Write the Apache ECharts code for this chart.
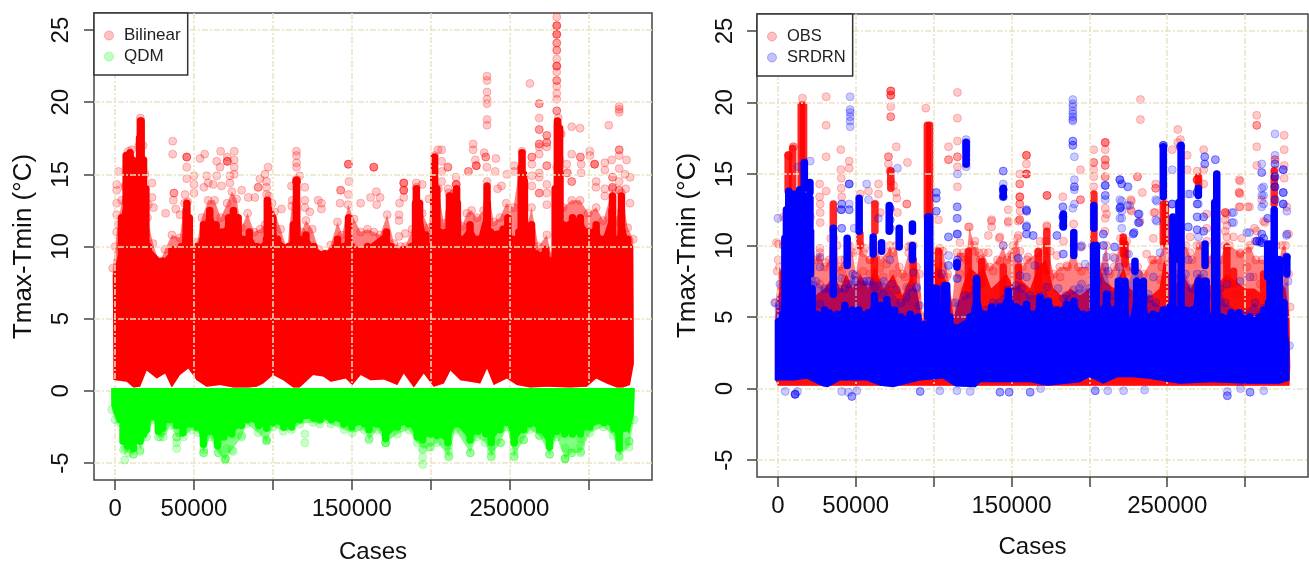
<!DOCTYPE html>
<html><head><meta charset="utf-8">
<style>html,body{margin:0;padding:0;background:#fff}#c{width:1309px;height:563px;filter:blur(.4px)}</style>
<script src="https://cdn.jsdelivr.net/npm/echarts@6/dist/echarts.min.js"></script>
</head><body><div id="c"></div>
<script>
// All x values are in thousands of cases, y in degrees C. Points: [x, y, repeat]. Runs: [x, yLow, yHigh]
const xTicks=[0,50000,100000,150000,200000,250000,300000];
const xLabels=[0,50000,150000,250000];
const yTicks=[-5,0,5,10,15,20,25];

// ---------- left panel: Bilinear ----------
const bilinearEnvelope=[[-1.5,8.5],[0,10],[1,11],[2,11.5],[4.2,13.2],[6.3,14.2],[8.4,16.6],[10.5,16.7],[12,14.5],[13.7,14.8],[15,17],[16,18.9],[17.7,17],[19,15],[20.5,12],[24,10.2],[28,8.8],[31.6,9.8],[36,10.8],[41,10.6],[44,13],[46,13.1],[48,10],[52,10.3],[55,12],[59,13.2],[63,13.2],[67,12],[71,13],[74,13.8],[77,13.3],[80,11.3],[84,12.3],[88,11],[92,11.2],[95,11.5],[97.5,13.5],[99.5,13],[101,12.4],[105,11.2],[109,9.8],[112,12.8],[115,14.7],[118,11],[121,11.8],[125,11.2],[129,9.8],[133,9.5],[136.7,10.1],[141,11.7],[144,10.8],[147.7,12.9],[151.5,11.9],[155.7,11],[160,11.2],[164,11],[168,10.8],[172.5,12.2],[176.8,10.2],[181,10],[184,10],[188.3,11.2],[191,14.1],[194.7,12.3],[199,11.3],[202.5,16.3],[205,14],[208.4,11.6],[211.5,13.7],[216.4,14.3],[220,11.4],[223,12.3],[226,12.5],[229.4,12],[233.6,12.5],[235.8,14.5],[240,11.7],[244,12],[248,13],[252.6,12.7],[258,16.6],[261,11.3],[264,12.7],[268.4,10],[273.7,10.8],[276.8,9.3],[280,15.5],[281,18.9],[282,16],[284,12.7],[289.5,13.2],[294.8,13.2],[300,12.3],[305,12.7],[309.5,11.8],[315.4,14],[318,11.8],[321,13.7],[325,11.3],[328.5,10.5]];
const bilinearCore=[[-1.5,8],[2,9.5],[4,12],[8,15.5],[11,16],[12,13],[14,13],[15.5,17.5],[16.5,18.7],[18,16],[19.5,14],[21,10],[30,9],[36,9.8],[42,10],[45,12.5],[47,12],[49,9.8],[52,10],[56,11.5],[60,12.5],[64,11.5],[68,11],[72,12],[75,12.5],[78,12],[81,10.5],[85,11],[90,10],[96,10.5],[98,12.5],[100,12],[103,10.5],[110,10],[113,11.5],[115,13],[117,10.5],[121,10.8],[126,10],[133,9.5],[141,10.5],[145,10],[148,12],[150,10],[160,10],[172,11],[175,10],[183,9.8],[188,10],[190.5,13],[193,13],[197,10.8],[200,10],[202,15],[204,14],[206,11],[210,11],[212,12.5],[215,11],[217,13],[219,10.5],[225,11.5],[230,10.5],[236,13],[238,11],[246,11.2],[249,12],[252,10.5],[256,11],[257.5,15.5],[259,15],[261,10.5],[264,11.5],[267,9.5],[273,9.8],[277,9],[279,14],[280.5,18.5],[282,15],[284,11.5],[290,12],[295,12],[300,11],[305,11.5],[309,10.5],[315,12.5],[318,10.5],[321,12.5],[325,10.5],[328.5,10]];
const bilinearLow=[[-1,.75],[7.4,.62],[11.6,.23],[15.8,.28],[20,1.4],[26.4,.85],[31.7,1.2],[35.9,.23],[41.1,1.1],[46.4,1.55],[51.7,.74],[58,.28],[66.5,.4],[74.9,.23],[84.4,.23],[89.7,.28],[93.9,.5],[100.2,1.1],[106.6,.74],[112.9,.23],[117,.23],[125.5,1.1],[131.9,1],[136.7,.62],[146.2,.85],[150.4,.4],[155.7,1.1],[162,.74],[170.4,.78],[178.9,.4],[183,1.2],[189.4,.23],[195.7,1.2],[202,.28],[208.4,.5],[212.6,1.4],[218.9,.74],[225.2,.62],[231.5,.5],[235.8,1.55],[240,.4],[248.4,.85],[254.7,.4],[263,.23],[273.7,.28],[288.4,.23],[299,.28],[305,.85],[311.6,.5],[318,.23],[322,.23],[326.4,.4],[328.9,1.9]];
const bilinearRuns=[[16,15,18.7],[7,13,16.3],[9.5,13,16.5],[45.5,10,13],[96.5,10,13.2],[115,11,14.6],[191,10,14],[202.5,10,16.2],[212,10,13.5],[216.5,10,14],[235.8,10,14.2],[258,10,16.5],[259.5,10,14.5],[280.5,10,18.7],[281.8,12,18.2],[315.4,10,13.5],[321,10,13.5]];
const bilinearPoints=[[36.5,17.3],[36.5,16.4],[45.4,16.2,3],[45.4,15.5],[45.4,14.7],[53.8,16.1],[56.8,16.4],[66.9,16.6],[64.4,15.9],[66.5,15.5],[71.1,16.2],[71.1,15.9,3],[75.5,16.6],[75.5,16],[75.5,15.5],[75.5,15],[64.4,14.9],[58,14.9],[59,14.4],[67.5,14.2],[72.8,14.9],[72.8,14.4],[23.4,14.4],[23.4,13.4],[21.1,12.9],[24.3,12.7],[32,12.3],[37.3,13.7,2],[36.9,13.2],[38.4,12.6],[41.1,12.2],[44.3,13.6],[50,14.9],[50,14.3],[50,13.7],[62.2,14.3],[56.3,14.1],[80.2,13.9],[84.4,13.4],[88.6,13.4],[90.7,14.1,2],[91.8,14.7],[95,15],[97,15.5],[96,14.5],[96,14.1],[96,13.6],[111.8,14.2],[115,16.6],[115,16.3],[115,15.8],[115,15.5],[115,14.5,4],[117,14.9],[120.3,14.1],[120.3,13.2],[120.3,12.7],[112.3,13.2],[130.8,13],[130.8,12.6],[128.7,13.2],[123.4,12.4],[105.5,12.6],[2.1,15.2],[1,14.3],[1,13.9],[1,13],[1,12.2],[7.4,15.5],[6.3,14.1],
[147.9,15.7,3],[148.3,14.5],[147.9,13.6],[143,13.9,2],[142.6,13],[155.7,13],[164,15.5,3],[165.6,13.8],[162,13.4],[168,13.4],[165.8,12.9],[183,14.4,3],[183,13.9,3],[183,13.4],[180.3,13],[180,12.2],[180,11.8],[180,10.7],[184,10.9],[191,14.4],[194.7,14.3],[199,13.3],[204.7,16.7],[207,16.7],[207,15.9],[207,15.2],[207,14.5],[211,15.5,2],[211,14],[216.2,14.8],[216.2,14.3,2],[224,15.2,2],[229,15.6,3],[227,17.1],[227,16.7],[228.4,16],[234,16.5],[235,16.2,2],[235.7,15.5],[241.4,16.1],[241,15.2],[245,14.2],[242.5,14],[248.4,15],[235.8,21.8],[235.8,21.5],[235.8,20.7],[235.8,20.2],[235.8,19.9],[235.8,18.8],[235.8,18.4],[263,21.3],[268.9,19.9,2],[268.9,18.9],[268.9,18.1,2],[268.9,17.1,2],[268.9,16.9],[268.9,16.4],[268.9,15.1],[268.9,14.8],[273.7,17.7,2],[273.7,17.2,2],[273.7,16.9],[273.7,15.6,2],[273.7,14.3],[273.7,13.7],[273.7,12.9],[264.2,16.2,2],[264.2,15.7],[264.2,14.9],[264.2,14.2],[268.9,13.7,2],[253,15.6],[253,15.2],
[280,25.9],[280,25.3,3],[280,24.7,3],[280,24.1,2],[280,23.6,2],[280,23],[280,22.5,3],[280,22.1],[280,21.5,2],[280,21.1],[280,20.6],[280,20.2],[280,19.4,2],[282,17.8],[282.9,17.8],[289.5,18.3],[294.8,18.2],[289.5,16.4],[286.3,15.7],[286.7,15.1,2],[289.5,14.5,2],[295,16.2,2],[295.5,15.7],[295.5,15.1],[301,16.6],[301,16.3],[304,15.7,3],[305,14.5],[304.8,14.1],[310.5,15.8],[310.5,15.3],[310.5,14],[310.5,13.5],[313,18.4],[319.6,19.7],[319.6,19.5],[319.6,19.3],[319.6,16.7,2],[319.6,16.3],[319.6,15.4],[314.8,16],[315.4,14.8,2],[315.4,14.1,2],[324.3,16],[323.2,15],[326.5,14.8],[323.7,14],[326.5,13],[319.6,14.5],[319.6,13.9,2]];

// ---------- left panel: QDM ----------
const qdmTop=[[-2.5,.2],[329.5,.2]];
const qdmEnvelope=[[-2.1,-1.3],[0,-2],[3.2,-2.2],[5.3,-4.1],[8.4,-4.3],[11.6,-4.4],[13.7,-3.2],[15.8,-4.1],[20,-3.2],[24.3,-2],[27.4,-3.2],[30.6,-3.2],[34.8,-2.4],[39,-3.2],[43.3,-3.2],[48.5,-2.7],[52.8,-2.9],[55.9,-4.3],[60.1,-3.2],[65.4,-4.3],[69.6,-4.8],[73.9,-4.1],[80.2,-3.2],[83.3,-2.3],[90.7,-2.9],[96,-3.5],[100.2,-2.5],[106.6,-2.8],[111.8,-2.7],[117.1,-2.3],[125.5,-2.2],[129.8,-2.3],[135,-2],[136.7,-2.3],[145.2,-2.7],[150.4,-2.9],[157.8,-2.7],[161,-3.4],[166.2,-2.7],[171.5,-3.6],[178.9,-3],[186.2,-2.7],[191.5,-3.6],[195,-4],[199.5,-3.9],[204.2,-3.6],[211.5,-4.5],[215.7,-2.7],[225.2,-4.3],[229.4,-3.2],[234.7,-3.6],[238.5,-4.5],[244.2,-3.6],[248.4,-2.5],[253,-4.5],[259,-3.4],[263,-2.7],[269,-3.1],[275.4,-4.4],[280,-3.2],[285.3,-4.7],[289.5,-4.3],[295.2,-4.3],[301,-2.9],[309.5,-2.5],[315.8,-3.1],[319.6,-4.5],[325.9,-3.9],[328.9,-2]];
const qdmCore=[[-2.5,-1],[0,-1.8],[3,-2],[5,-3.5],[8,-3.8],[11.6,-4],[13.7,-2.6],[15.8,-3.5],[18,-3],[20,-2.7],[24,-1.8],[27.4,-2.8],[30,-2.6],[34.8,-2],[39,-2.4],[43,-2.9],[48,-2.3],[52,-2.5],[56,-3.7],[60,-2.8],[65,-3.8],[69,-3.2],[74,-3],[80,-2.4],[84,-2],[91,-2.4],[96,-2.6],[100,-2.2],[107,-2.5],[112,-2.5],[117,-2],[126,-1.9],[130,-2],[135,-1.8],[137,-2],[145,-2.3],[150,-2.5],[158,-2.3],[161,-2.7],[166,-2.3],[171.5,-3.3],[179,-2.5],[186,-2.3],[191.5,-3.2],[195,-3.4],[200,-3],[204,-3.1],[211,-3.6],[216,-2.3],[225,-3.4],[230,-2.8],[235,-3],[238.5,-3.6],[244,-2.7],[248,-2.2],[253,-3.6],[259,-2.7],[263,-2.3],[269,-2.7],[275.4,-3.9],[280,-2.8],[285,-3],[290,-3],[295,-3],[301,-2.5],[310,-2.2],[316,-2.6],[319.6,-4],[323,-2.6],[326,-3],[329,-1.5]];
const qdmPoints=[[6.1,-4.8],[6.1,-4],[11.6,-4.4],[15.8,-4.2],[39,-4],[39,-3.6],[39,-3.2],[56.3,-4.3],[56.3,-4.1],[65.4,-4.3],[70,-4.7,2],[74.9,-4.2],[70.7,-4],[80.2,-3.1],[96,-3.4,2],[120.3,-3],[120.3,-3.6],[28.5,-3.2],[30.6,-2.8],[195,-5.1],[195,-4.6],[195,-4.1],[211.5,-4.6],[211.5,-4.2],[211.5,-3.8],[225.2,-4.3],[238.5,-4.6],[238.5,-4.2],[238.5,-3.9],[244.6,-3.6],[253,-4.6],[253,-4.2],[253,-3.6],[259,-3.4],[269,-3.1],[275.4,-4.4],[285.3,-4.7,2],[285.3,-3.98],[289.5,-4.3],[295.2,-4.2],[295.2,-3.8],[295.2,-3.3],[319.6,-4.6],[325.9,-3.5,2],[161,-3.3],[171.5,-3.6,2],[200,-3.9]];

// ---------- right panel: OBS ----------
const obsEnvelope=[[-1.5,6],[1,8.5],[3,8],[4.3,10],[5.5,12],[18,12],[19,12],[21,12],[24,9],[27,9.5],[30,8.5],[33,9],[34,10.5],[36,10.5],[38,10],[39,8.5],[43,9],[45,10],[46,10],[48,9.5],[50,8],[53,10],[55,9.5],[59,9],[61,10],[63,10],[66,9],[70,9.5],[72,10],[74,9.5],[76,10],[78,8.5],[80,8],[84,9.5],[85,10],[87,10],[89,8.5],[91,8],[93,5],[100,9.3],[103,8],[104,9.8],[106,9.6],[109,8],[112,6],[115,9.5],[119,9.5],[121,9],[123,11.3],[126,10],[129,9.5],[130,9],[132,9.5],[136,8.5],[141,9],[144.7,10],[147,9],[151,10],[154,10.5],[157,8.5],[160,9],[167,9.5],[172,10.3],[177,8],[181,8.5],[186,8.5],[190,10],[193,8.5],[200,8.5],[202,10],[205,10],[207,8.5],[211,10],[213,8],[216,8.5],[220,10.5],[224,10.3],[226,8.5],[231,8.5],[235,8],[240,9],[244,9],[248,10],[250,10],[253,9],[256,10],[259,10],[262,10],[266,9],[269,10],[271,10],[273,10],[276,9],[281,10],[284,9],[287,10],[290,10],[297,9.5],[303,10],[307,9],[311,9],[315,9],[318,10],[320,10],[322,9],[324,10],[326,10],[328,8]];
const obsCore=[[-1.5,5],[1,7],[3,7.5],[5,9],[18,9],[20,7.5],[24,6.5],[30,7],[36,8],[40,7],[44,8],[48,7],[53,8],[58,7],[62,8.5],[68,7],[74,8],[80,6.5],[86,8],[90,6.5],[93,4.5],[100,8],[104,8.5],[110,7],[113,5],[118,7],[123,8.5],[128,8],[132,8.5],[137,7],[142,7.5],[147,8],[152,7],[157,7.5],[162,7],[167,8.5],[172,9],[177,7],[182,6.5],[188,7],[194,6.5],[200,7],[205,9],[210,7.5],[216,7],[222,8.5],[226,7],[232,6.5],[240,6.5],[245,7],[248,9],[254,7],[260,8],[265,7],[270,8],[275,7.5],[280,7],[288,8],[294,7.5],[300,7],[306,7],[312,6.5],[318,7],[322,7.5],[326,7],[328.5,5]];
const obsLow=[[-1.5,.6],[0,.2],[328.5,.2],[329,1.5]];
const obsRuns=[[35.6,11,12.9],[6.6,13.8,16.3],[9.5,14,16.8],[15,14,19.8],[16.5,14,19.8],[96,12,18.4],[97.5,12,18.4],[103.1,8.2,9.6],[86.9,7.5,9],[62.3,11,12.9],[52.7,10,10.8],[3.4,6.6,8],[130.9,7.3,8.9],[122.3,6.6,9.6],[144.7,6.6,8.5],[154.4,6.4,8.5],[167.2,5.9,9.6],[172.7,8.2,11],[202.9,10,13.6],[221.8,9.4,10.6],[247.5,10.2,12.9],[248.8,10.2,12.9],[222.9,8.7,10.1],[270.1,14,14.8],[292.6,7.3,8.2],[288.3,7.8,9.9],[311.9,6.8,8],[318.7,12.9,15.2],[72.5,14,15.2],[35.6,8,10],[103,5,8.2],[62,7,9]];
const obsPoints=[[15.8,20.3],[31,20.4],[31,18.4],[31,16.2],[40.4,16.7],[40.4,15.3],[45.8,15.9],[45.8,15.4],[26.8,14.3],[26.8,13.4],[31,13.8],[27.2,12.9],[27.2,12.3],[27.2,11.6],[52.9,13.6],[58.2,13.8],[64.6,14.3],[64.6,13.6],[65.7,12.3],[62.5,12.9],[72.5,20.8,3],[72.5,20.5,3],[72.5,19.7],[72.5,19,2],[76,16.9],[83.2,15.8],[71,16.2,2],[71,15.7],[72.1,15.2,2],[72.5,14.5],[74.3,14.2],[76,13.7],[76.4,13.3],[76.8,12.3],[82.8,12.9,2],[83.9,9.9],[95,19.6],[115.3,20.7],[115.3,18.9],[109.6,16.9],[115.3,17.3],[109.6,16,2],[115.3,16.2,2],[115.3,15.5],[115.3,14.1],[103.1,11.8],[.4,10.1],[3.6,12],[6.8,16.3,2],[10,16.9,2],[40.7,14.7],[40.7,14],[41,13.4],
[232.8,20.2],[232.8,18.8],[230.9,14.8,2],[234,13.7],[226.6,13.2],[226.6,12.5],[241.5,12.3],[242.6,14.3],[242.6,14,2],[253.2,16.7],[256.8,18.1],[258.5,17.4],[256.8,17.2],[262.8,16.3],[262.8,15.3],[273.4,16.7],[273.4,15.3],[273.4,14.3],[269.2,15.2],[269.2,14.6,4],[296.2,14.6],[296.2,13.7,2],[296.2,12.7],[301.7,12.7],[307.5,19.1],[307.5,18.4,2],[307.5,16.9],[307.5,15.6],[325.1,17.7],[325.1,16.7],[325.1,15.6],[325.1,14.7],[319.2,16,2],[319.2,15.3],[310.7,13.2],[312.8,11.6],[287.3,12.3,3],[287.3,11.8],[287.3,11],[306,11.2],[159.6,16.3,3],[159.6,15.7],[159.6,15,4],[155.3,15],[155.3,14.3,2],[155.3,13.4,2],[155.3,12.9,2],[155.3,11.8,2],[172.8,13.5,3],[172.8,11.3],[183,13.4],[194.3,15.3],[194.3,13.2,2],[202.8,16.7],[202.8,15.8,2],[202.8,15.3],[202.8,14.8],[202.8,14.1],[210.2,17.2,3],[210.2,16.7],[210.2,16,2],[210.2,15.6,2],[210.2,14.8,2],[210.2,12.6],[210.2,11.9],[137.2,11.8],[137.2,11.3],[147.9,12.5],[147.9,11.6],[135.1,10.7],[142.1,10.5],
[-.9,10.2],[3.4,10],[.2,9],[-.4,8.2],[27,9.8],[27,9.1],[30.8,8.8],[27,7.3],[41,9],[41,8.2],[50.5,9.6],[55.9,9.8],[59.1,9],[65.5,8.4],[69.8,8.7],[67.7,7.8],[74.1,8],[81.6,7.8],[82.7,7.1],[59.1,8],[54.8,8.2],[54.8,7.3],[63.4,6.9],[30.2,6.9],[21.6,6.9],[21.6,6.2],[89.1,6.5],[90.2,5.8],[82.7,6.1],[101.9,9.6],[103,8.8],[108.4,7.8],[106.2,8.5],[43.1,7.6],
[116.9,10.2],[122.3,11.3],[126.6,10.3],[135.1,9.5],[137.2,11.7],[142.6,10.6],[148,11.7],[148,9.2],[155.5,13.4],[155.5,12.4],[154.4,11.7],[154.4,10.7],[160.8,9.2],[168.3,10.3],[172.7,11.4],[174.9,9.6],[179.2,9.3],[185.6,8.6],[189.9,11.5],[183.4,10.3],[174.9,7.8],[181.3,7.8],[138.3,8.2],[142.6,8.9],[116.9,8],[119,9.2],[126.6,9.6],[131.9,8.5],[150.1,9.4],[155.5,9.6],[195,8.2],[195,9.9],[211.1,12.2],[210,11],[215.4,9.2],[210,8.2],[221.8,10.3],[224,9.4],[224,8.2],
[227,13.1],[227,12.4],[232.5,11.7],[241.1,10.5],[246.5,8.5],[241.1,9],[236.8,9.4],[245.4,7.6],[248.6,6.6],[242.2,12.3],[264.7,10.6],[264.7,9.5],[275.4,12.2],[275.4,11.2],[275.4,10.3],[288.3,12.2],[288.3,11.4],[288.3,10.6],[296.8,14.5],[296.8,13.6],[296.8,12.7],[302.8,12.7],[292.6,10.6],[298,10.5],[302.2,9.8],[307.5,11],[306.4,10.3],[301.1,8.5],[305.4,7.8],[294.6,6.6],[296.8,9.4],[311.9,11.7],[326.8,12.7],[327.9,10.8],[328.9,5.7],[309.7,7.3],[314,6.6]];

// ---------- right panel: SRDRN ----------
const srdrnEnvelope=[[-2,6],[1,5.8],[3,5.8],[19,7.5],[24.5,7.5],[30,7],[33,7],[39,7],[43,7],[48,8],[50,7.5],[55,7.5],[59,7.5],[68,7.5],[79,6],[84,7],[89,7],[91,5.8],[93.5,3.8],[100,7],[103,6],[107,7],[112,4],[113,3.8],[114,6],[120,6.5],[127,7],[129.8,5.2],[134,5.5],[138.3,6],[147.9,6.9],[153,7.2],[156.4,7],[161.7,6.5],[170.2,6.5],[180.9,5.5],[185,6.5],[193.6,7],[200,7],[205.5,7.5],[210.2,8.5],[214.9,6.5],[219.2,8.5],[223.4,6.5],[228.1,8.5],[231.5,8],[234,7],[238.3,6.3],[242.6,6],[249,5.5],[256,8],[261.7,8],[266,7],[269.2,8],[273.4,8],[275.5,6.5],[277.7,5.2],[284,7],[287.2,6],[297.9,5.2],[306.4,6],[310.7,5.2],[321.8,7],[327.6,7.5],[328.5,3]];
const srdrnCore=[[-2,4.8],[3,5.2],[4.5,10.5],[5.5,12.5],[7,13.8],[14,13.9],[16.5,13.5],[18,11],[19,8],[22,7],[25,5.2],[30,5.5],[33,5.3],[38,5.2],[43,5.8],[48,5.5],[52,5.5],[58,5.3],[62,6.5],[66,5.8],[70,6.2],[75,5.5],[79,5],[85,5.2],[90,5],[92.5,3.8],[94,4.5],[98,5],[102,7],[103.5,5],[107,7.2],[109,5],[110.5,5],[112.6,4.3],[123.3,5],[127.6,7.5],[131.9,5.2],[137.2,5.7],[142.6,5.7],[148,6.8],[153.3,5.7],[159.7,5.9],[164,5.2],[168.3,6.4],[173.7,6.1],[179,5.5],[185.4,5.9],[190.1,6.1],[196.1,5.2],[200.5,5.2],[206.9,5.5],[211.1,6.6],[215.4,5.5],[218.6,7.5],[222.9,7.5],[226,4.8],[230.4,7.5],[234.7,7.5],[237.9,5],[241,5.2],[247.5,5.5],[251.7,5.7],[256,5.5],[262,5.5],[266,5.5],[270,7.5],[275,7.5],[278,5],[285,5],[291,5.3],[296,5.3],[303,5],[309,5],[312,5.5],[315,6],[316,9],[322,9],[323,6],[325,6],[328.5,3]];
const srdrnLow=[[-2,.56],[10,.56],[18.6,.68],[29,.14],[32,.1],[40,.56],[57,.56],[65.5,.2],[74,.1],[91,.56],[106,.68],[114,.14],[127,.1],[130,.44],[147,.44],[162,.44],[173,.2],[194,.44],[200,.8],[209,.33],[218,.8],[228,.8],[238,.68],[258,.33],[279,.44],[301,.33],[322,.33],[328.5,.56]];
const srdrnRuns=[[20.6,13.7,14.4],[20.6,11.3,13.3],[21,8,11],[35.6,6.6,11.2],[44.5,8.6,10.5],[52.2,11,13.3],[61.2,9.4,10.6],[66.6,9.6,10.2],[71.5,11,12.8],[77.9,9.9,11.2],[86.4,11,11.5],[86.4,9,10],[96.2,5,12],[97.5,5,12],[101.9,5,7],[108.4,5,7.2],[144.7,13.4,14],[115,8.5,8.8],[127.6,6.4,7.7],[183.3,11.3,12.2],[190,9.3,10.9],[202.7,5,10],[204.5,5,10],[202.9,11.2,12.8],[219.7,5,7.5],[211,5,6.6],[258.9,5,17],[257.5,9,13],[281.8,5,15],[280.5,5,13],[318.7,5,12.5],[316.4,7.8,10.1],[314.5,7.8,10.1],[326.8,8,9.2],[253.6,5,10],[253.6,9.6,12],[274.3,8.6,10.1],[274.3,5,7.5],[270,13.5,14],[270,5,7.5],[229.3,8.2,8.9],[247.5,13.4,16.9],[17,14,15.8],[120.9,15.7,17.2]];
const srdrnPoints=[[0,11.9],[46.4,20.4],[46.4,19.5],[46.4,19.3],[46.4,19],[46.4,18.7],[46.4,18.3],[20.8,15.9],[13.3,15.5],[45.8,14.3,3],[57,14.3],[58.2,13.2],[45.8,12.9],[41,12.9,2],[40.7,12.5,3],[45.8,12.5,2],[72.1,12.6,3],[72.1,11.8,2],[72.1,11.2,2],[76.8,15.4],[64.6,11.9],[49,11.2],[41,11.2,2],[101.7,13.7,2],[101.7,13.3,2],[101.7,12.4,2],[120.9,17.4],[120.9,17.2],[120.9,17],[120.9,16.8],[120.9,16.6],[120.9,16.3],[120.9,16],[120.9,15.7],[120.9,15.5],[115.3,15],[115.3,12.7],[115.3,11.9],[115.3,10.8,2],[109.6,10.6],[109.6,9.3],[109.6,8.6],[115.3,9,2],[115.3,7.7],
[189.4,20.2],[189.4,19.9],[189.4,19.7],[189.4,19.4],[189.4,19.2],[189.4,19],[189.4,18.8],[189.4,18.7],[189.4,17.3,2],[189.4,17,2],[190.4,16.2],[190.4,14.6],[190.4,14.1,2],[190.4,13.9],[190.4,12.9],[189.4,12.6],[144.7,15.2,2],[144.7,14.3],[144.7,13.9,3],[144.7,13.4,2],[144.7,10],[159.6,12.5,2],[159.6,11.3,2],[159.6,10.8],[163.8,10.7],[179.2,10.7],[183,12.7,2],[183,12,3],[183,11.4,2],[183,9.4],[194.3,9.9],[219.6,14.6,3],[224.5,14.1],[219.6,13.2],[219.6,12.6,2],[219.6,11.9],[224.5,12.8],[210.2,14.2,3],[210.2,13.5,2],[210.2,13.2],[216,9.9],[231.5,12.2,2],[231.5,11.6,2],[228.1,10.8,2],[247.5,17,3],[242.6,13.2],[242.6,11.8],[253.2,15.3],[253.2,12.9,3],[258.5,16.9,3],[263.4,13.6],[263.4,11.3],[269.2,13.7,3],[269.2,12.9,2],[269.2,12,2],[269.2,11.1,2],[274.1,16.2,2],[274.1,15.7,2],[280.9,16,2],[273.4,12,2],[273.4,11,2],[291.5,12.3],[291.5,11.6],[301.1,10.9],[307.5,10.3,3],[310.7,15.7],[310.7,15.1,2],[310.7,14],[310.7,13.5],[310.7,12.7],[310.7,10.8,2],[310.7,10.2,3],[314.5,11.9,2],[319.2,17.8],[319.2,16.3],[319.2,15.7,2],[319.2,14.8,3],[319.2,14.1,3],[319.2,13.2,2],[324.5,15.3,3],[324.5,13.7,3],[324.5,12.9,3],[326.6,10.7],[326.6,9.2,2],
[4.7,-.2],[11.1,-.4,4],[12.6,-.2],[41,-.2],[47.5,-.55,2],[45.4,-.25],[50.7,-.15],[91.4,-.2,2],[104,-.15],[115,-.15],[123.5,-.2],[142.6,-.25,2],[148.5,-.25,2],[162,-.25,2],[168.7,0],[203.8,-.15,2],[211.8,-.15],[222,-.15],[235.5,-.1],[288.6,-.5,2],[288.6,-.2],[303.2,-.25,2],[312,-.15],[297,0],
[21.6,7.6],[27,8.5],[27,9.2],[41,7.7],[45.2,7.3],[49.5,7.9],[57,7.5],[62.3,7.1],[67.7,6.6],[71.9,9],[73,7.3],[76.2,6.9],[82.7,6.4],[86.9,8.1],[89.1,7.1],[109.5,10.6],[109.5,8.6],[105.2,8],[2.4,6.4],[1.3,7.3],[27,5.9],
[115,12.7],[115,11.9],[115,10.8],[115,8.7,2],[115,7.7],[127.6,7.5],[154.4,9.1,2],[159.7,12.4,2],[159.7,11.4],[159.7,10.8],[164,10.7],[179.2,10.7],[183.4,9.4],[155.5,7.9],[159.7,7.8],[165,8.6],[172.7,7.1],[180,7],[183.4,6.3],[189.9,6.9],[195,7.3],[195,10],[197.2,8.7],[209,10.8,2],[209,10,2],[211,9.2],[212.1,8.2],[216.5,9.1],[216.5,9.9],[220.8,11.2],[220.8,11.9],[220,12.7,2],[225.2,9.4],
[220.8,14.3,2],[225,14.1],[225.9,12.8],[220.8,13.1],[220.8,12.4],[228.7,10.9,2],[232.1,12.2],[232.1,11.6],[243.3,13.1],[243.3,11.7],[245.4,9.5],[241.1,7.8],[237.9,6.6],[264.7,13.6],[263.6,11.3],[263.6,9],[270,12.9],[270,10.6],[292.6,12.3],[292.6,11.6],[302.8,10.9],[311.9,14.1],[311.9,13.5],[311.9,12.9],[309.3,10.3,2],[311.9,10.5,2],[303.1,7.8],[296.8,7.5],[288.3,7.3],[311.9,5.6],[326.8,10.8],[326.8,12.4]];

// ---------- build ----------
function expand(list){const o=[];list.forEach(p=>{for(let i=0;i<(p[2]||1);i++)o.push([p[0]*1000,p[1]]);});return o;}
function band(name,top,bottom,fill,z,gi){
  const rows=top.concat(bottom.slice().reverse()).map(p=>[p[0]*1000,p[1]]);
  return {name,type:'custom',xAxisIndex:gi,yAxisIndex:gi,z,silent:true,animation:false,data:rows,
    renderItem(params,api){
      if(params.dataIndex!==0)return null;
      return {type:'polygon',shape:{points:rows.map(r=>api.coord(r))},style:{fill},silent:true};
    }};
}
function runs(name,list,stroke,z,gi){
  const rows=list.map(r=>[r[0]*1000,r[1],r[2]]);
  return {name,type:'custom',xAxisIndex:gi,yAxisIndex:gi,z,silent:true,animation:false,data:rows,
    encode:{x:0,y:[1,2]},
    renderItem(params,api){
      const a=api.coord([api.value(0),api.value(1)]),b=api.coord([api.value(0),api.value(2)]);
      return {type:'line',shape:{x1:a[0],y1:a[1],x2:b[0],y2:b[1]},style:{stroke,lineWidth:7.5,lineCap:'round'},silent:true};
    }};
}
// each interior edge value is also a stack of overlapping circles reaching that value, from the given base
function edgeRuns(list,base){return list.filter(p=>p[0]>2&&p[0]<326).map(p=>[p[0],base,p[1]]);}
function dots(name,list,rgb,z,gi){
  return {name,type:'scatter',xAxisIndex:gi,yAxisIndex:gi,z,silent:true,animation:false,symbol:'circle',symbolSize:8,
    data:expand(list),itemStyle:{color:`rgba(${rgb},.26)`,borderColor:`rgba(${rgb},.3)`,borderWidth:1}};
}
function xAxis(gi){return {type:'value',gridIndex:gi,min:-13400,max:340400,z:2,
  name:'Cases',nameLocation:'middle',nameGap:gi?58:60,nameTextStyle:{fontFamily:'Liberation Sans',fontSize:24,color:'#111'},
  axisLine:{show:false,onZero:false},
  axisTick:{show:true,length:10,customValues:xTicks,lineStyle:{color:'#444',width:1.5}},
  axisLabel:{margin:17,fontFamily:'Liberation Sans',fontSize:24,color:'#111',customValues:xLabels,formatter:v=>String(v),hideOverlap:false},
  splitLine:{show:true,lineStyle:{color:'#EBE3C3',width:1.5,type:[6,2,2,2]}}};}
function yAxis(gi){return {type:'value',gridIndex:gi,min:-6.18,max:26.18,z:2,
  name:'Tmax-Tmin (°C)',nameLocation:'middle',nameGap:gi?56:57,nameRotate:90,nameTextStyle:{fontFamily:'Liberation Sans',fontSize:26,color:'#111'},
  axisLine:{show:false,onZero:false},
  axisTick:{show:true,length:10,customValues:yTicks,lineStyle:{color:'#444',width:1.5}},
  axisLabel:{rotate:90,margin:gi?20:21,fontFamily:'Liberation Sans',fontSize:24,color:'#111',customValues:yTicks,formatter:v=>String(v)},
  splitLine:{show:true,lineStyle:{color:'#EBE3C3',width:1.5,type:[6,2,2,2]}}};}
function legend(names,rgbs,left,top,pr,fs){return {show:true,orient:'vertical',left,top,z:20,
  padding:[14,pr,10,10],itemWidth:20,itemHeight:9,itemGap:4,icon:'circle',backgroundColor:'#fff',borderColor:'#333',borderWidth:1.5,
  textStyle:{fontFamily:'Liberation Sans',fontSize:fs,color:'#222'},
  data:names.map((n,i)=>({name:n,icon:'circle',itemStyle:{color:`rgba(${rgbs[i]},.24)`,borderColor:`rgba(${rgbs[i]},.28)`,borderWidth:1}}))};}

const chart=echarts.init(document.getElementById('c'),null,{renderer:'canvas'});
chart.setOption({animation:false,backgroundColor:'#fff',
  grid:[{left:94,top:13,width:558,height:467,show:true,z:0,outerBoundsMode:'none',borderColor:'#444',borderWidth:1.5,backgroundColor:'transparent'},
        {left:757,top:14,width:551,height:463,show:true,z:0,outerBoundsMode:'none',borderColor:'#444',borderWidth:1.5,backgroundColor:'transparent'}],
  xAxis:[xAxis(0),xAxis(1)],yAxis:[yAxis(0),yAxis(1)],
  legend:[legend(['Bilinear','QDM'],['255,0,0','0,255,0'],94,13,7,17),legend(['OBS','SRDRN'],['255,0,0','0,0,255'],757,14,7,16.5)],
  series:[
    band('Bilinear',bilinearEnvelope,bilinearLow,'rgba(255,0,0,.5)',1,0),
    band('Bilinear',bilinearCore,bilinearLow,'rgb(255,0,0)',1,0),
    runs('Bilinear',edgeRuns(bilinearCore,5),'rgb(255,0,0)',1,0),
    runs('Bilinear',bilinearRuns,'rgb(255,0,0)',1,0),
    dots('Bilinear',bilinearPoints.concat(bilinearEnvelope),'255,0,0',1,0),
    band('QDM',qdmTop,qdmEnvelope,'rgba(0,255,0,.5)',3,0),
    band('QDM',qdmTop,qdmCore,'rgb(0,255,0)',3,0),
    runs('QDM',edgeRuns(qdmCore,-.3),'rgb(0,255,0)',3,0),
    dots('QDM',qdmPoints.concat(qdmEnvelope),'0,255,0',3,0),
    band('OBS',obsEnvelope,obsLow,'rgba(255,0,0,.5)',1,1),
    band('OBS',obsCore,obsLow,'rgba(255,0,0,.9)',1,1),
    runs('OBS',obsRuns,'rgba(255,0,0,.85)',1,1),
    dots('OBS',obsPoints.concat(obsEnvelope),'255,0,0',1,1),
    band('SRDRN',srdrnEnvelope,srdrnLow,'rgba(0,0,255,.3)',3,1),
    band('SRDRN',srdrnCore,srdrnLow,'rgb(0,0,255)',3,1),
    runs('SRDRN',edgeRuns(srdrnCore,2),'rgb(0,0,255)',3,1),
    runs('SRDRN',srdrnRuns,'rgb(0,0,255)',3,1),
    dots('SRDRN',srdrnPoints.concat(srdrnEnvelope),'0,0,255',3,1)
  ]});
</script></body></html>
